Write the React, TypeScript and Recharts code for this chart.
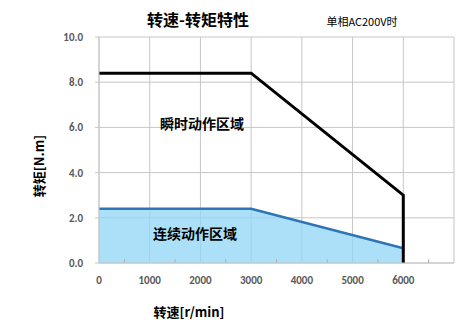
import { ComposedChart, Area, Line, XAxis, YAxis, CartesianGrid, ReferenceLine } from 'recharts';

// speed [r/min]
const speeds = [0, 3000, 6000, 6000];
// instantaneous (peak) torque [N.m]
const peakTorque = [8.4, 8.4, 3.0, 0];
// continuous torque [N.m]
const contTorque: (number | null)[] = [2.4, 2.4, 0.65, null];

const xTicks = [0, 1000, 2000, 3000, 4000, 5000, 6000];
const minorTicks = [500, 1500, 2500, 3500, 4500, 5500, 6500];
const yTicks = [0, 2, 4, 6, 8, 10];

const data = speeds.map((s, i) => ({ speed: s, peak: peakTorque[i], cont: contTorque[i] }));

const cjk = '"Noto Sans CJK SC", "Noto Sans", sans-serif';
const tickStyle = { fill: '#595959', fontSize: 11, fontWeight: 700, fontFamily: 'Calibri, "Liberation Sans", Arial, sans-serif' };

// text overlay, centred on (x, y)
function Txt({ x, y, size, bold, rotate, children }: any) {
  return (
    <div
      style={{
        position: 'absolute',
        left: x,
        top: y,
        transform: `translate(-50%, -50%)${rotate ? ` rotate(${rotate}deg)` : ''}`,
        whiteSpace: 'nowrap',
        fontFamily: cjk,
        fontSize: size,
        fontWeight: bold ? 700 : 400,
        color: '#000',
        lineHeight: 1,
      }}
    >
      {children}
    </div>
  );
}

export default function App() {
  return (
    <div style={{ position: 'absolute', left: 0, top: 0, width: 456, height: 327, background: '#fff' }}>
      <ComposedChart width={456} height={327} data={data} margin={{ top: 37, right: 2, left: 0, bottom: 0 }}>
        <CartesianGrid stroke="#c6c6c6" strokeWidth={1} />
        <XAxis
          dataKey="speed"
          type="number"
          domain={[0, 7000]}
          ticks={xTicks}
          height={64}
          tickSize={0}
          tickMargin={13}
          tick={tickStyle}
          axisLine={{ stroke: '#c6c6c6' }}
          tickLine={false}
        />
        <YAxis
          type="number"
          domain={[0, 10]}
          ticks={yTicks}
          width={99}
          tickSize={4}
          tickMargin={12}
          tick={tickStyle}
          tickFormatter={(v: number) => v.toFixed(1)}
          axisLine={{ stroke: '#c6c6c6' }}
          tickLine={{ stroke: '#c6c6c6' }}
        />
        <Area
          dataKey="cont"
          type="linear"
          stroke="#2e75b6"
          strokeWidth={2.5}
          fill="#8fd6f5"
          fillOpacity={0.75}
          isAnimationActive={false}
          dot={false}
          activeDot={false}
        />
        {minorTicks.map(m => (
          <ReferenceLine key={m} segment={[{ x: m, y: 0 }, { x: m, y: 0.18 }]} stroke="#b0b0b0" />
        ))}
        <Line
          dataKey="peak"
          type="linear"
          stroke="#000"
          strokeWidth={3}
          dot={false}
          activeDot={false}
          isAnimationActive={false}
        />
      </ComposedChart>
      <Txt x={198} y={19} size={16} bold>转速-转矩特性</Txt>
      <Txt x={362} y={21} size={11}>单相AC200V时</Txt>
      <Txt x={202} y={123} size={14} bold>瞬时动作区域</Txt>
      <Txt x={195} y={233} size={14} bold>连续动作区域</Txt>
      <Txt x={189} y={311} size={13} bold>转速[r/min]</Txt>
      <Txt x={38} y={166} size={13} bold rotate={-90}>转矩[N.m]</Txt>
    </div>
  );
}
